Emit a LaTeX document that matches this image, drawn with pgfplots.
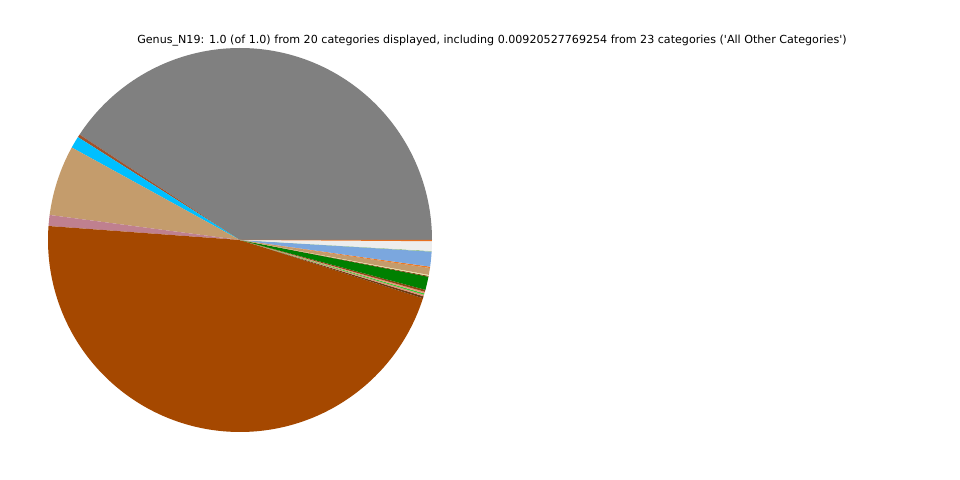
\documentclass[border=0pt]{standalone}
\usepackage{fontspec}
\setmainfont{DejaVu Sans}[Ligatures=TeXOff]
\usepackage{pgfplots}
\usepackage{pgfplotstable}
\pgfplotsset{compat=1.18}

% slice colours, counter-clockwise from 3 o'clock
\definecolor{c1}{HTML}{808080}
\definecolor{c2}{HTML}{A0522D}
\definecolor{c3}{HTML}{00BFFF}
\definecolor{c4}{HTML}{C49C6C}
\definecolor{c5}{HTML}{BF808F}
\definecolor{c6}{HTML}{A54800}
\definecolor{c7}{HTML}{6B3A10}
\definecolor{c8}{HTML}{E0907A}
\definecolor{c9}{HTML}{32CD32}
\definecolor{c10}{HTML}{E8967A}
\definecolor{c11}{HTML}{8B4513}
\definecolor{c12}{HTML}{008000}
\definecolor{c13}{HTML}{7A4010}
\definecolor{c14}{HTML}{EEE8AA}
\definecolor{c15}{HTML}{C49C6C}
\definecolor{c16}{HTML}{F07820}
\definecolor{c17}{HTML}{7BA7DE}
\definecolor{c18}{HTML}{8FBC8F}
\definecolor{c19}{HTML}{EDEDED}
\definecolor{c20}{HTML}{E87020}

% share of each category, percent
\pgfplotstableread{
pct   col
40.75 c1
0.25  c2
1.00  c3
5.92  c4
0.92  c5
46.25 c6
0.17  c7
0.14  c8
0.11  c9
0.14  c10
0.17  c11
1.11  c12
0.08  c13
0.08  c14
0.58  c15
0.11  c16
1.25  c17
0.06  c18
0.81  c19
0.10  c20
}\pietable

\begin{document}
\begin{tikzpicture}
\begin{axis}[
  width=9.6in, height=4.8in, scale only axis,
  xmin=0, xmax=9.6, ymin=0, ymax=4.8,
  hide axis, clip=false,
]
\draw[draw=none] (rel axis cs:0,0) rectangle (rel axis cs:1,1);
\gdef\cum{0}
\pgfplotsinvokeforeach{0,...,19}{
  \pgfplotstablegetelem{#1}{pct}\of\pietable \let\v\pgfplotsretval
  \pgfplotstablegetelem{#1}{col}\of\pietable \let\c\pgfplotsretval
  \pgfmathsetmacro\a{\cum*3.6}
  \pgfmathsetmacro\b{(\cum+\v)*3.6}
  \pgfmathtruncatemacro\n{max(3,ceil(\v*3.6)+2)}
  \pgfmathsetmacro\newcum{\cum+\v}
  \xdef\cum{\newcum}
  \edef\doslice{\noexpand\addplot[fill=\c, draw=none, domain=\a:\b, samples=\n, variable=\noexpand\t]
    ({2.4+1.92*cos(\noexpand\t)},{2.4+1.92*sin(\noexpand\t)}) -- (axis cs:2.4,2.4) -- cycle;}
  \doslice
}
\node[font=\fontsize{8.03}{10}\selectfont] at (axis cs:4.92,4.39)
  {Genus\_N19: 1.0 (of 1.0) from 20 categories displayed, including 0.00920527769254 from 23 categories ('All Other Categories')};
\end{axis}
\end{tikzpicture}
\end{document}
